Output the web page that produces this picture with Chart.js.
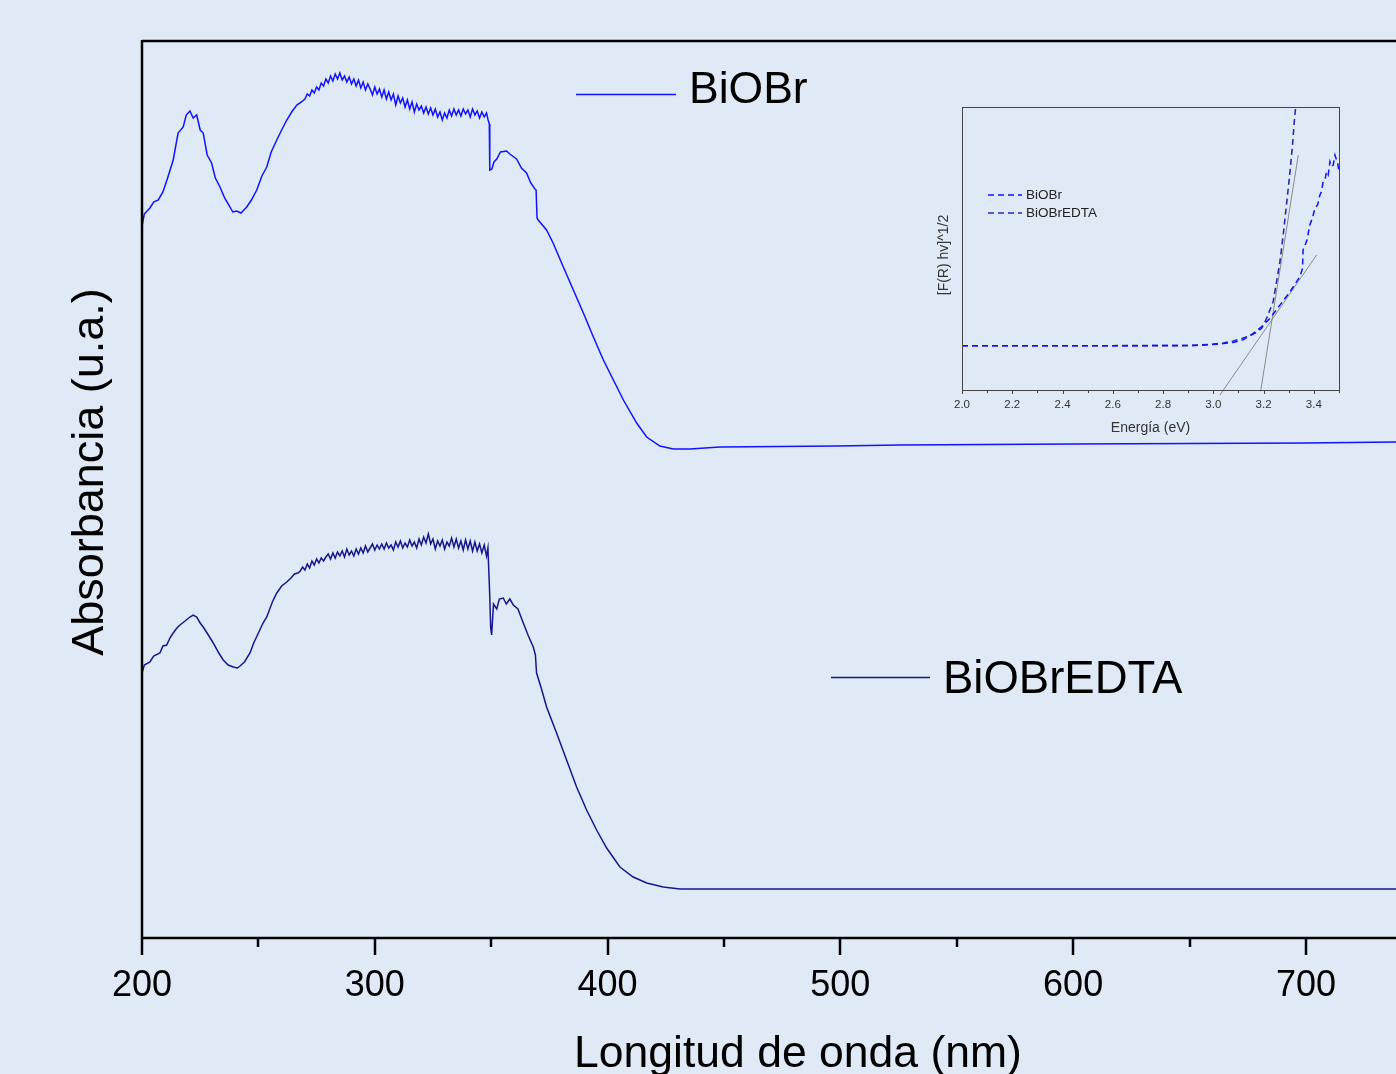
<!DOCTYPE html>
<html>
<head>
<meta charset="utf-8">
<script src="https://cdn.jsdelivr.net/npm/chart.js@4.4.0/dist/chart.umd.min.js"></script>
<style>
  html, body { margin: 0; padding: 0; background: #dfeaf6; overflow: hidden; }
  #wrap { position: relative; width: 1396px; height: 1074px; }
  #mainChart { position: absolute; left: 0; top: 0; }
  #insetChart { position: absolute; left: 900px; top: 90px; }
</style>
</head>
<body>
<div id="wrap">
  <canvas id="mainChart" width="1396" height="1074"></canvas>
  <canvas id="insetChart" width="460" height="360"></canvas>
</div>
<script>
'use strict';

// main spectra: wavelength (nm) and absorbance (a.u.)
let biobrNm = [
  200, 201, 203.4, 205, 207, 209, 211, 213.4, 215.5, 217.7, 219, 220.6, 222, 223.5, 225, 226.3, 228, 229.9,
  231.5, 233.5, 235.5, 237.8, 239, 240.7, 242.5, 245, 247, 249.3, 251.5, 253.6, 255.5, 257.9, 260, 262.2,
  264.3, 266.5, 268.5,
  270, 271, 272, 273, 274, 275, 276, 277, 278, 279, 280, 281, 282, 283, 284, 285, 286, 287, 288, 289,
  290, 291, 292, 293, 294, 295, 296, 297, 298, 299, 300, 301, 302, 303, 304, 305, 306, 307, 308, 309,
  310, 311, 312, 313, 314, 315, 316, 317, 318, 319, 320, 321, 322, 323, 324, 325, 326, 327, 328, 329,
  330, 331, 332, 333, 334, 335, 336, 337, 338, 339, 340, 341, 342, 343, 344, 345, 346, 347, 348,
  348.7, 349.2, 349.4, 350.3, 351.2, 352.4, 354,
  356.6, 358, 360.9, 363, 365.2, 367, 368.8, 369.3, 369.7, 370.2, 373.8, 376.6, 381, 385.3, 389.6, 393.9,
  398.2, 402.5, 406.8, 412.5, 416.8, 422.5, 428.2, 435.4, 448.3, 498.4, 525.6, 600, 700, 740
];
let biobrAbs = [
  71.2, 72.4, 73.0, 73.6, 73.8, 74.6, 76.0, 77.8, 80.5, 81.1, 82.3, 82.7, 82.0, 82.3, 80.8, 80.5, 78.3, 77.5,
  76.0, 75.1, 74.0, 73.1, 72.6, 72.7, 72.5, 73.1, 73.8, 74.8, 76.2, 77.1, 78.6, 79.8, 80.8, 81.8,
  82.6, 83.3, 83.6,
  83.9, 84.4, 84.2, 84.8, 84.5, 85.1, 84.8, 85.5, 85.2, 85.9, 85.5, 86.2, 85.7, 86.4, 85.9, 86.5, 85.8, 86.2, 85.6, 86.1,
  85.4, 85.9, 85.2, 85.8, 85.0, 85.6, 84.8, 85.4, 84.9, 84.3, 85.1, 84.4, 84.9, 84.1, 84.8, 83.9, 84.6, 83.8, 84.4, 83.3,
  84.2, 83.5, 84.0, 83.1, 83.8, 82.9, 83.6, 82.6, 83.4, 82.8, 83.2, 82.5, 83.1, 82.4, 83.0, 82.3, 82.9, 82.1, 82.6, 81.8,
  82.5, 82.0, 82.8, 82.2, 82.9, 82.3, 82.8, 82.2, 82.9, 82.4, 82.8, 82.1, 82.9, 82.3, 82.7, 82.0, 82.6, 82.1, 82.5,
  81.8, 81.4, 76.8, 76.9, 77.6, 77.9, 78.6,
  78.7, 78.4, 77.9, 77.0, 76.5, 75.5, 74.9, 74.8, 72.0, 71.8, 70.8, 69.5, 67.1, 64.8, 62.5, 60.1,
  57.8, 55.8, 53.8, 51.5, 50.1, 49.2, 48.9, 48.9, 49.1, 49.2, 49.3, 49.4, 49.5, 49.6
];

let edtaNm = [
  200, 201, 203.4, 205, 207.7, 209, 210.6, 212, 213.4, 215, 216.3, 218.5, 220.6, 222, 223.5, 225, 226.3,
  228.5, 230.6, 233, 234.9, 237, 239.2, 241, 242.1, 244, 246.4, 248, 250, 252, 253.6, 256, 257.9, 260,
  262.2, 264, 265.5, 267,
  268, 269, 270, 271, 272, 273, 274, 275, 276, 277, 278, 279, 280, 281, 282, 283, 284, 285, 286, 287,
  288, 289, 290, 291, 292, 293, 294, 295, 296, 297, 298, 299, 300, 301, 302, 303, 304, 305, 306, 307,
  308, 309, 310, 311, 312, 313, 314, 315, 316, 317, 318, 319, 320, 321, 322, 323, 324, 325, 326, 327,
  328, 329, 330, 331, 332, 333, 334, 335, 336, 337, 338, 339, 340, 341, 342, 343, 344, 345, 346, 347,
  348, 348.6, 349.3, 349.8, 350.2, 351, 352.4, 353.5, 355.2, 356.5, 358, 359.5, 361.5,
  363.8, 366, 368.1, 369, 369.5, 371.5, 373.8, 378.1, 382.4, 386.7, 391, 395.3, 399.6, 405.3, 411, 416.8,
  423.9, 431.1, 740
];
let edtaAbs = [
  26.5, 27.3, 27.6, 28.2, 28.5, 29.2, 29.3, 30.0, 30.5, 31.0, 31.3, 31.7, 32.1, 32.3, 32.1, 31.5, 31.1,
  30.3, 29.5, 28.5, 27.8, 27.3, 27.1, 27.0, 27.2, 27.6, 28.5, 29.5, 30.5, 31.5, 32.1, 33.6, 34.5, 35.2,
  35.6, 36.0, 36.4, 36.5,
  36.7, 37.1, 36.8, 37.4, 37.0, 37.7, 37.3, 37.9, 37.5, 38.0, 37.7, 38.1, 38.4, 37.9, 38.5, 38.0, 38.6, 38.2, 38.7, 38.1,
  38.9, 38.3, 38.7, 38.2, 38.9, 38.4, 39.0, 38.5, 39.2, 38.6, 39.0, 39.4, 38.8, 39.3, 38.9, 39.4, 38.9, 39.5, 39.0, 39.3,
  38.8, 39.6, 39.1, 39.7, 39.0, 39.5, 39.1, 39.8, 39.2, 39.6, 39.0, 39.9, 39.3, 40.1, 39.5, 40.4, 39.4, 39.9, 38.9, 39.7,
  39.2, 39.8, 38.9, 39.6, 39.2, 40.0, 39.1, 39.9, 39.0, 39.7, 38.8, 39.8, 38.9, 39.7, 38.7, 39.6, 38.7, 39.4, 38.5, 39.3,
  38.2, 39.0, 34.8, 31.0, 30.3, 33.4, 32.9, 33.9, 34.0, 33.4, 33.9, 33.3, 32.9,
  31.5, 30.2, 29.1, 28.3, 26.5, 25.0, 23.1, 20.5, 17.8, 15.1, 12.8, 10.8, 9.0, 7.1, 6.1, 5.5,
  5.1, 4.9, 4.9
];

let mainTicks = [200, 300, 400, 500, 600, 700];
let mainMinorTicks = [250, 350, 450, 550, 650, 750];

// inset: Tauc plot, energy (eV) vs [F(R) hv]^1/2
let insetBiobrE = [
  2.0, 2.5, 2.9, 2.95, 3.0, 3.04, 3.079, 3.12, 3.159, 3.19, 3.225, 3.265, 3.305, 3.344, 3.355, 3.357, 3.372,
  3.384, 3.395, 3.404, 3.415, 3.424, 3.43, 3.437, 3.445, 3.45, 3.457, 3.464, 3.47, 3.477, 3.484, 3.49, 3.495, 3.5
];
let insetBiobrF = [
  0.1565, 0.1565, 0.157, 0.158, 0.161, 0.164, 0.168, 0.178, 0.2, 0.222, 0.253, 0.300, 0.347, 0.400, 0.430, 0.495, 0.528,
  0.583, 0.61, 0.642, 0.655, 0.689, 0.70, 0.736, 0.745, 0.771, 0.76, 0.807, 0.79, 0.795, 0.83, 0.813, 0.80, 0.771
];
let insetEdtaE = [
  2.0, 2.5, 2.9, 2.95, 3.0, 3.04, 3.079, 3.11, 3.146, 3.17, 3.192, 3.212, 3.238, 3.265, 3.278, 3.291, 3.305,
  3.315, 3.322, 3.327, 3.335
];
let insetEdtaF = [
  0.1565, 0.1565, 0.157, 0.159, 0.162, 0.166, 0.173, 0.181, 0.192, 0.203, 0.218, 0.253, 0.312, 0.453, 0.548, 0.654, 0.771,
  0.866, 0.948, 0.995, 1.06
];
// tangent lines used for the band gap
let tangentA = [[3.026, -0.018], [3.411, 0.477]];
let tangentB = [[3.188, -0.005], [3.338, 0.830]];

let insetTicks = [2.0, 2.2, 2.4, 2.6, 2.8, 3.0, 3.2, 3.4];
let insetMinorTicks = [2.1, 2.3, 2.5, 2.7, 2.9, 3.1, 3.3, 3.5];

const blue = '#1212ff';
const navy = '#16168e';
const font = '"Liberation Sans", Arial, sans-serif';

function pairs(xs, ys) {
  let out = [];
  for (let i = 0; i < xs.length; i++) {
    out.push({ x: xs[i], y: ys[i] });
  }
  return out;
}

// ----- main chart decoration -----
let mainDeco = {
  id: 'mainDeco',
  afterDatasetsDraw(chart) {
    let ctx = chart.ctx;
    let area = chart.chartArea;
    let xs = chart.scales.x;
    ctx.save();
    ctx.strokeStyle = '#000';
    ctx.lineWidth = 2.5;
    ctx.beginPath();
    ctx.moveTo(area.left, area.top);
    ctx.lineTo(area.right, area.top);
    ctx.moveTo(area.left, area.top - 1);
    ctx.lineTo(area.left, area.bottom);
    ctx.moveTo(area.left - 1, area.bottom);
    ctx.lineTo(area.right, area.bottom);
    ctx.stroke();

    ctx.lineWidth = 2.5;
    ctx.beginPath();
    mainTicks.forEach(v => {
      let px = Math.round(xs.getPixelForValue(v));
      ctx.moveTo(px, area.bottom);
      ctx.lineTo(px, area.bottom + 17);
    });
    mainMinorTicks.forEach(v => {
      let px = Math.round(xs.getPixelForValue(v));
      if (px <= area.right) {
        ctx.moveTo(px, area.bottom);
        ctx.lineTo(px, area.bottom + 9);
      }
    });
    ctx.stroke();

    ctx.fillStyle = '#000';
    ctx.font = '36px ' + font;
    ctx.textAlign = 'center';
    ctx.textBaseline = 'alphabetic';
    mainTicks.forEach(v => {
      ctx.fillText(String(v), xs.getPixelForValue(v), 996);
    });

    ctx.font = '44.5px ' + font;
    ctx.fillText('Longitud de onda (nm)', 798, 1067);

    ctx.save();
    ctx.translate(103, 472);
    ctx.rotate(-Math.PI / 2);
    ctx.font = '45px ' + font;
    ctx.fillText('Absorbancia (u.a.)', 0, 0);
    ctx.restore();

    // legend entries beside the curves
    ctx.textAlign = 'left';
    ctx.lineWidth = 1.6;
    ctx.strokeStyle = blue;
    ctx.beginPath();
    ctx.moveTo(576, 94.5);
    ctx.lineTo(676, 94.5);
    ctx.stroke();
    ctx.strokeStyle = navy;
    ctx.beginPath();
    ctx.moveTo(831, 677.5);
    ctx.lineTo(930, 677.5);
    ctx.stroke();
    ctx.font = '44.5px ' + font;
    ctx.fillText('BiOBr', 689, 103);
    ctx.font = '45.5px ' + font;
    ctx.fillText('BiOBrEDTA', 943, 693);
    ctx.restore();
  }
};

new Chart(document.getElementById('mainChart'), {
  type: 'line',
  data: {
    datasets: [{
      label: 'BiOBr',
      data: pairs(biobrNm, biobrAbs),
      borderColor: blue,
      borderWidth: 1.5,
      pointRadius: 0,
      tension: 0
    }, {
      label: 'BiOBrEDTA',
      data: pairs(edtaNm, edtaAbs),
      borderColor: navy,
      borderWidth: 1.5,
      pointRadius: 0,
      tension: 0
    }]
  },
  options: {
    responsive: false,
    animation: false,
    layout: { padding: { left: 142, top: 41, right: 0, bottom: 136 } },
    plugins: { legend: { display: false }, tooltip: { enabled: false } },
    scales: {
      x: { type: 'linear', min: 200, max: 738.7, display: false },
      y: { type: 'linear', min: 0, max: 89.7, display: false }
    }
  },
  plugins: [mainDeco]
});

// ----- inset decoration -----
let insetDeco = {
  id: 'insetDeco',
  afterDatasetsDraw(chart) {
    let ctx = chart.ctx;
    let area = chart.chartArea;
    let xs = chart.scales.x;
    ctx.save();
    ctx.strokeStyle = '#444';
    ctx.lineWidth = 1;
    ctx.strokeRect(area.left + 0.5, area.top + 0.5, area.right - area.left, area.bottom - area.top);

    ctx.beginPath();
    insetTicks.forEach(v => {
      let px = Math.round(xs.getPixelForValue(v)) + 0.5;
      ctx.moveTo(px, area.bottom);
      ctx.lineTo(px, area.bottom + 4);
    });
    insetMinorTicks.forEach(v => {
      let px = Math.round(xs.getPixelForValue(v)) + 0.5;
      ctx.moveTo(px, area.bottom);
      ctx.lineTo(px, area.bottom + 3);
    });
    ctx.stroke();

    ctx.fillStyle = '#333';
    ctx.font = '11.5px ' + font;
    ctx.textAlign = 'center';
    ctx.textBaseline = 'middle';
    insetTicks.forEach(v => {
      ctx.fillText(v.toFixed(1), xs.getPixelForValue(v), 315);
    });
    ctx.font = '14px ' + font;
    ctx.fillText('Energía (eV)', (area.left + area.right) / 2, 338);

    ctx.save();
    ctx.translate(44, 165);
    ctx.rotate(-Math.PI / 2);
    ctx.fillText('[F(R) hv]^1/2', 0, 0);
    ctx.restore();

    // legend
    ctx.lineWidth = 1.5;
    ctx.setLineDash([6, 4]);
    ctx.strokeStyle = blue;
    ctx.beginPath();
    ctx.moveTo(88, 105);
    ctx.lineTo(122, 105);
    ctx.stroke();
    ctx.strokeStyle = '#2a2ab0';
    ctx.beginPath();
    ctx.moveTo(88, 123);
    ctx.lineTo(122, 123);
    ctx.stroke();
    ctx.setLineDash([]);
    ctx.textAlign = 'left';
    ctx.font = '13.5px ' + font;
    ctx.fillStyle = '#222';
    ctx.fillText('BiOBr', 126, 105);
    ctx.fillText('BiOBrEDTA', 126, 123);
    ctx.restore();
  }
};

new Chart(document.getElementById('insetChart'), {
  type: 'line',
  data: {
    datasets: [{
      label: 'BiOBr',
      data: pairs(insetBiobrE, insetBiobrF),
      borderColor: blue,
      borderWidth: 1.5,
      borderDash: [6, 4],
      pointRadius: 0,
      tension: 0
    }, {
      label: 'BiOBrEDTA',
      data: pairs(insetEdtaE, insetEdtaF),
      borderColor: '#2a2ab0',
      borderWidth: 1.6,
      borderDash: [6, 4],
      pointRadius: 0,
      tension: 0
    }, {
      label: 'tangent A',
      data: tangentA.map(p => ({ x: p[0], y: p[1] })),
      borderColor: '#8a8a8a',
      borderWidth: 1,
      pointRadius: 0,
      clip: 10
    }, {
      label: 'tangent B',
      data: tangentB.map(p => ({ x: p[0], y: p[1] })),
      borderColor: '#8a8a8a',
      borderWidth: 1,
      pointRadius: 0,
      clip: 10
    }]
  },
  options: {
    responsive: false,
    animation: false,
    layout: { padding: { left: 62, top: 17, right: 21, bottom: 60 } },
    plugins: { legend: { display: false }, tooltip: { enabled: false } },
    scales: {
      x: { type: 'linear', min: 2.0, max: 3.5, display: false },
      y: { type: 'linear', min: 0, max: 1, display: false }
    }
  },
  plugins: [insetDeco]
});
</script>
</body>
</html>
